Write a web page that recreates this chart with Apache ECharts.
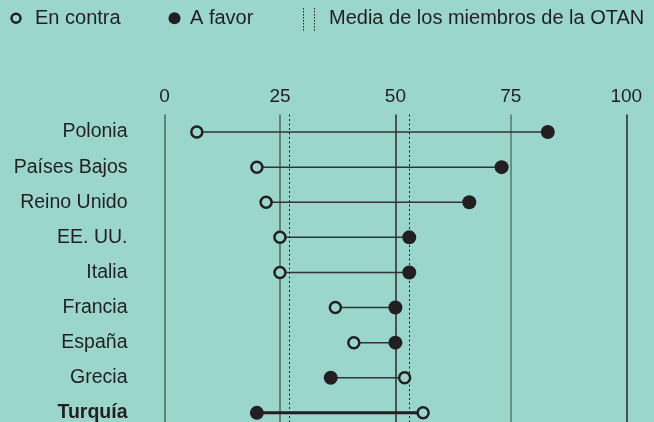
<!DOCTYPE html>
<html>
<head>
<meta charset="utf-8">
<script src="https://cdn.jsdelivr.net/npm/echarts@6/dist/echarts.min.js"></script>
<style>
  html, body { margin: 0; padding: 0; background: #9ad6cc; }
  #chart { width: 654px; height: 422px; }
</style>
</head>
<body>
<div id="chart"></div>
<script>
const categories = ['Polonia', 'Países Bajos', 'Reino Unido', 'EE. UU.', 'Italia', 'Francia', 'España', 'Grecia', 'Turquía'];
const enContra = [7, 20, 22, 25, 25, 37, 41, 52, 56];
const aFavor = [83, 73, 66, 53, 53, 50, 50, 36, 20];
const mediaOTAN = [27, 53];
const xTicks = { min: 0, max: 100, interval: 25 };

const BG = '#9ad6cc';
const INK = '#231f20';
const FONT = '"Liberation Sans", Arial, Helvetica, sans-serif';

const chart = echarts.init(document.getElementById('chart'), null, { renderer: 'canvas' });

const option = {
  backgroundColor: BG,
  animation: false,
  textStyle: { fontFamily: FONT },
  grid: { left: 164.5, width: 461.8, top: 114.5, height: 315.9, outerBoundsMode: 'none', containLabel: false },
  xAxis: {
    type: 'value',
    position: 'top',
    min: xTicks.min, max: xTicks.max, interval: xTicks.interval,
    axisLine: { show: false },
    axisTick: { show: false },
    axisLabel: { margin: 8, fontSize: 19, color: INK, fontFamily: FONT },
    splitLine: {
      show: true,
      lineStyle: { width: 1.5, color: ['#4f6763', '#4f6763', '#2a2a2a', '#5b7470', '#2a2a2a'] }
    }
  },
  yAxis: {
    type: 'category',
    inverse: true,
    data: categories,
    axisLine: { show: false },
    axisTick: { show: false },
    splitLine: { show: false },
    axisLabel: {
      margin: 37,
      fontSize: 19.5,
      color: INK,
      fontFamily: FONT,
      formatter: function (v) { return v === 'Turquía' ? '{b|' + v + '}' : v; },
      rich: { b: { fontWeight: 'bold', fontSize: 19.5, color: INK, fontFamily: FONT } }
    }
  },
  graphic: [
    { type: 'circle', shape: { cx: 16, cy: 18.3, r: 4.5 }, style: { fill: BG, stroke: INK, lineWidth: 2.5 } },
    { type: 'text', x: 35, y: 18.5, style: { text: 'En contra', fontSize: 20, fill: INK, font: '20px ' + FONT, verticalAlign: 'middle' } },
    { type: 'circle', shape: { cx: 174.5, cy: 18.3, r: 6 }, style: { fill: INK } },
    { type: 'text', x: 190, y: 18.5, style: { text: 'A favor', fontSize: 20, fill: INK, font: '20px ' + FONT, verticalAlign: 'middle' } },
    { type: 'line', shape: { x1: 303.5, y1: 8, x2: 303.5, y2: 31 }, style: { stroke: INK, lineWidth: 1, lineDash: [1.5, 1.5] } },
    { type: 'line', shape: { x1: 314.5, y1: 8, x2: 314.5, y2: 31 }, style: { stroke: INK, lineWidth: 1, lineDash: [1.5, 1.5] } },
    { type: 'text', x: 329, y: 18.5, style: { text: 'Media de los miembros de la OTAN', fontSize: 20, fill: INK, font: '20px ' + FONT, verticalAlign: 'middle' } }
  ],
  series: [
    {
      name: 'rango',
      type: 'custom',
      z: 2,
      data: categories.map(function (c, i) { return [i, enContra[i], aFavor[i]]; }),
      encode: { y: 0, x: [1, 2] },
      renderItem: function (params, api) {
        const idx = api.value(0);
        const p1 = api.coord([api.value(1), idx]);
        const p2 = api.coord([api.value(2), idx]);
        const bold = categories[idx] === 'Turquía';
        return {
          type: 'line',
          shape: { x1: p1[0], y1: p1[1], x2: p2[0], y2: p2[1] },
          style: { stroke: bold ? INK : '#333333', lineWidth: bold ? 3 : 1.5 }
        };
      },
      markLine: {
        silent: true,
        symbol: 'none',
        label: { show: false },
        lineStyle: { color: INK, width: 1, type: [2, 2.5] },
        data: mediaOTAN.map(function (v) { return { xAxis: v }; })
      }
    },
    {
      name: 'En contra',
      type: 'scatter',
      z: 3,
      symbol: 'circle',
      symbolSize: 11,
      itemStyle: { color: BG, borderColor: INK, borderWidth: 2.5, opacity: 1 },
      data: enContra.map(function (v, i) { return [v, i]; })
    },
    {
      name: 'A favor',
      type: 'scatter',
      z: 3,
      symbol: 'circle',
      symbolSize: 14,
      itemStyle: { color: INK, opacity: 1 },
      data: aFavor.map(function (v, i) { return [v, i]; })
    }
  ]
};

chart.setOption(option);
</script>
</body>
</html>
